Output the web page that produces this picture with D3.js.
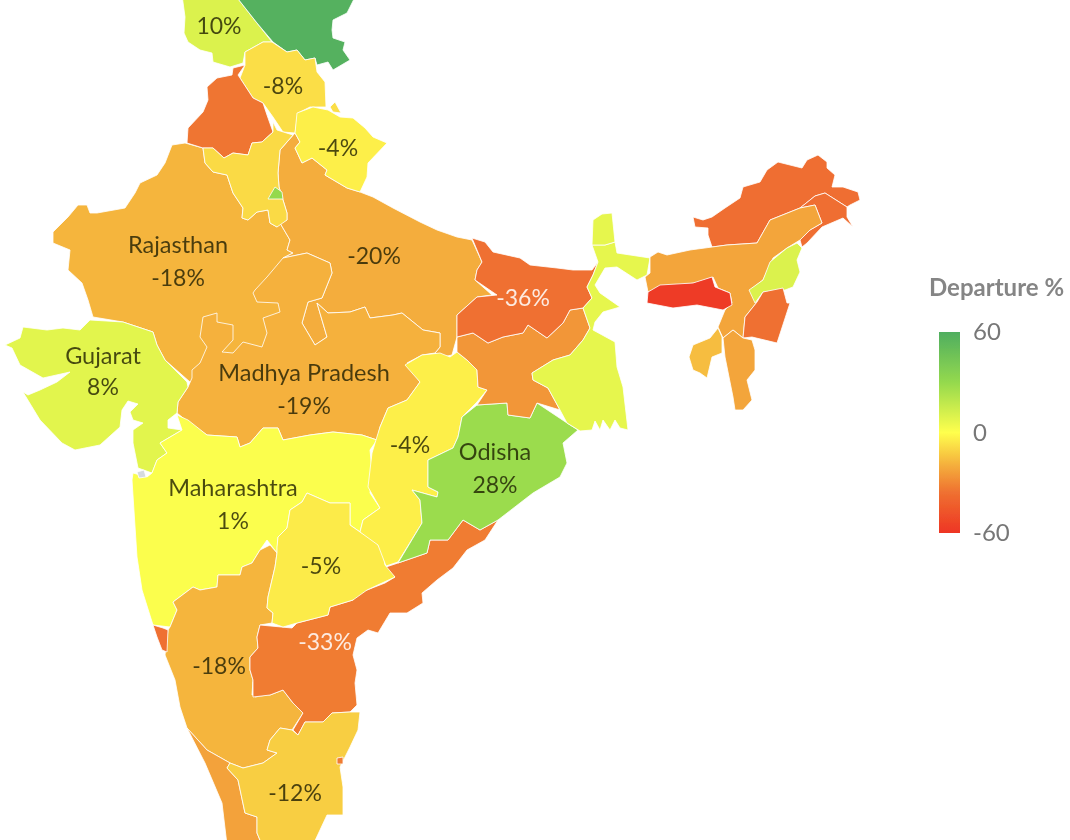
<!DOCTYPE html>
<html>
<head>
<meta charset="utf-8">
<script src="https://cdn.jsdelivr.net/npm/d3@7"></script>
<style>
html, body { margin: 0; padding: 0; background: #fff; }
svg { display: block; }
text { font-family: Lato, "Open Sans", sans-serif; }
</style>
</head>
<body>
<svg id="chart" width="1070" height="840"></svg>
<script>
// outlines, in map units
const rajasthan = [[185,143],[172,145],[165,163],[157,175],[140,183],[135,193],[125,208],[97,213],[90,213],[87,205],[78,205],[68,217],[53,232],[53,243],[70,250],[68,270],[82,283],[88,300],[93,317],[123,322],[153,332],[157,345],[165,360],[190,382],[240,365],[300,340],[320,290],[283,258],[293,253],[287,250],[290,240],[280,223],[277,227],[270,223],[268,210],[257,212],[248,220],[242,218],[243,208],[233,193],[227,175],[213,172],[205,163],[203,148]];
const uttarPradesh = [[295,133],[300,142],[295,148],[302,163],[312,158],[327,170],[325,175],[347,188],[360,192],[373,197],[393,208],[420,222],[437,230],[457,237],[472,240],[482,262],[477,270],[475,280],[492,295],[477,297],[457,315],[457,337],[452,355],[443,357],[435,353],[440,347],[440,333],[423,330],[402,313],[393,315],[370,318],[365,307],[350,312],[328,313],[317,303],[327,337],[315,345],[302,323],[308,302],[322,298],[332,273],[330,263],[307,253],[283,258],[293,253],[287,250],[290,240],[280,223],[287,220],[287,213],[283,200],[279,187],[278,173],[280,150]];
const madhyaPradesh = [[192,378],[192,370],[200,363],[207,347],[200,337],[203,317],[217,313],[217,322],[233,325],[233,340],[222,352],[233,353],[243,342],[262,347],[267,333],[263,318],[280,312],[278,303],[257,302],[253,293],[255,290],[267,277],[283,258],[307,253],[330,263],[332,273],[322,298],[308,302],[302,323],[315,345],[327,337],[317,303],[328,313],[350,312],[365,307],[370,318],[393,315],[402,313],[423,330],[440,333],[440,347],[435,353],[422,355],[407,363],[420,382],[407,400],[388,408],[380,427],[377,440],[362,435],[333,432],[310,435],[283,440],[278,428],[263,428],[250,443],[240,447],[237,437],[207,435],[188,422],[177,413],[178,402],[188,387]];
const gujarat = [[90,320],[80,330],[63,328],[47,330],[23,327],[20,338],[5,345],[12,348],[20,365],[43,378],[70,372],[57,382],[40,390],[28,395],[23,392],[40,420],[62,443],[75,450],[100,445],[120,427],[122,410],[128,401],[138,404],[130,412],[133,420],[143,423],[133,430],[133,443],[138,468],[152,473],[157,460],[167,453],[160,443],[182,430],[168,428],[168,420],[177,413],[178,402],[188,387],[187,382],[165,360],[157,345],[153,332],[123,322]];
const maharashtra = [[167,453],[160,443],[182,430],[177,415],[188,420],[207,435],[237,437],[240,447],[250,443],[263,428],[278,428],[283,440],[310,435],[333,432],[362,435],[377,440],[370,450],[372,470],[370,493],[380,508],[363,520],[360,532],[350,525],[350,503],[330,503],[307,493],[302,502],[290,510],[287,528],[278,537],[277,553],[267,540],[260,550],[252,563],[242,567],[240,575],[218,575],[217,587],[200,590],[193,587],[173,602],[177,610],[170,627],[153,625],[142,590],[137,557],[132,480],[133,473],[147,477],[152,473],[157,460]];
const goa = [[153,625],[163,628],[168,630],[167,652],[162,650],[157,637]];
const karnataka = [[173,602],[193,587],[200,590],[217,587],[218,575],[240,575],[242,567],[252,563],[260,550],[270,545],[277,553],[275,567],[268,597],[267,608],[273,613],[272,623],[260,625],[257,637],[258,648],[250,657],[250,670],[253,680],[252,695],[270,695],[283,690],[293,703],[303,713],[292,730],[280,728],[270,740],[267,750],[277,753],[263,763],[243,768],[230,763],[207,750],[187,728],[180,707],[175,680],[165,655],[168,630],[170,627],[177,610]];
const karnatakaEnclave = [[253,682],[268,678],[270,683],[263,688],[267,695],[255,697]];
const andhraPradesh = [[498,520],[480,530],[463,520],[448,540],[430,540],[427,553],[398,563],[383,568],[395,577],[385,583],[367,590],[358,592],[353,600],[330,607],[328,615],[297,623],[292,628],[260,625],[257,637],[258,648],[250,657],[250,670],[253,680],[253,697],[270,695],[283,690],[293,703],[303,713],[293,730],[298,735],[305,722],[323,722],[332,713],[350,712],[357,705],[355,683],[357,670],[353,655],[357,638],[368,630],[378,633],[390,613],[407,613],[423,603],[422,593],[437,580],[453,568],[467,550],[485,540]];
const telangana = [[277,553],[277,547],[278,537],[287,528],[290,510],[302,502],[307,493],[330,503],[350,503],[350,525],[360,532],[375,540],[383,553],[385,565],[395,577],[367,590],[353,600],[330,607],[328,615],[297,623],[283,627],[272,623],[273,613],[267,608],[268,597],[275,567]];
const chhattisgarh = [[405,365],[422,355],[440,353],[450,357],[457,352],[467,360],[477,370],[478,387],[487,390],[477,402],[462,417],[458,437],[453,448],[428,460],[428,487],[438,492],[437,497],[412,490],[420,500],[422,523],[398,562],[386,566],[378,545],[360,532],[363,520],[380,508],[368,487],[372,453],[375,443],[380,427],[388,408],[407,400],[420,382]];
const odisha = [[428,460],[453,448],[458,437],[462,417],[477,405],[507,403],[508,415],[530,418],[537,403],[567,423],[578,430],[563,443],[567,463],[560,477],[533,493],[498,520],[480,530],[463,520],[448,540],[430,540],[427,553],[398,563],[422,523],[420,500],[412,490],[437,497],[438,492],[428,487]];
const jharkhand = [[457,337],[473,333],[488,343],[503,337],[523,333],[528,325],[547,338],[563,323],[570,310],[583,308],[590,328],[583,340],[570,355],[553,360],[532,373],[533,380],[548,388],[560,410],[537,403],[530,418],[508,415],[507,403],[477,405],[487,390],[478,387],[477,370],[467,360],[457,352]];
const bihar = [[472,238],[485,242],[493,252],[520,258],[530,265],[557,268],[573,270],[592,270],[598,262],[593,275],[587,287],[592,298],[583,308],[570,310],[563,323],[547,338],[528,325],[523,333],[503,337],[488,343],[473,333],[457,337],[457,315],[477,297],[497,295],[475,280],[477,270],[482,262]];
const westBengal = [[532,373],[553,360],[570,355],[583,340],[590,328],[583,308],[592,298],[587,287],[593,275],[598,262],[592,245],[605,245],[615,242],[617,253],[650,258],[647,275],[637,280],[617,267],[605,268],[595,285],[600,293],[620,307],[603,312],[595,322],[593,330],[615,342],[617,367],[623,387],[628,430],[620,428],[615,420],[610,430],[603,420],[600,430],[595,421],[592,430],[580,431],[567,423],[560,410],[548,388],[533,380]];
const sikkim = [[592,245],[593,220],[602,214],[612,213],[615,242],[605,245]];
const jammuKashmir = [[182,-5],[185,17],[184,33],[188,42],[200,50],[212,53],[213,62],[230,67],[243,63],[245,52],[263,42],[272,42],[257,23],[235,-5]];
const ladakh = [[235,-5],[257,23],[273,42],[287,52],[297,50],[305,60],[315,58],[317,65],[328,62],[333,70],[350,60],[343,50],[345,42],[333,38],[332,30],[333,20],[347,13],[352,3],[356,-5]];
const himachal = [[245,52],[263,42],[272,42],[287,52],[297,50],[305,60],[315,58],[317,72],[325,82],[326,107],[310,107],[298,113],[295,133],[283,132],[273,117],[263,103],[253,98],[240,78],[245,65]];
const himachalSliver = [[330,107],[335,102],[341,113],[333,112]];
const punjab = [[245,65],[238,75],[240,78],[253,98],[263,103],[267,115],[273,132],[262,142],[252,143],[248,155],[233,153],[224,158],[213,148],[203,148],[187,143],[188,128],[203,112],[208,100],[207,87],[217,78],[232,75],[233,68]];
const haryana = [[273,122],[277,130],[293,135],[280,150],[278,173],[279,187],[283,200],[287,213],[287,220],[277,227],[270,223],[268,210],[257,212],[248,220],[242,218],[243,208],[233,193],[227,175],[213,172],[205,163],[203,148],[213,148],[224,158],[233,153],[248,155],[252,143],[262,142],[273,132]];
const delhi = [[275,187],[282,192],[283,199],[268,199],[272,192]];
const uttarakhand = [[297,113],[313,107],[328,110],[340,117],[353,118],[365,128],[373,137],[387,143],[368,163],[367,177],[360,192],[347,188],[325,175],[327,170],[312,158],[302,163],[295,148],[300,142],[295,133]];
const arunachal = [[693,217],[703,220],[712,217],[725,208],[740,198],[743,187],[760,182],[767,170],[778,162],[802,168],[807,160],[818,155],[827,162],[827,168],[835,175],[832,187],[843,187],[858,192],[860,200],[850,205],[847,207],[825,193],[815,196],[800,208],[770,220],[757,243],[727,245],[712,247],[708,235],[708,228],[695,227]];
const arunachalEast = [[800,208],[815,196],[825,193],[847,207],[847,217],[853,227],[843,218],[822,227],[807,243],[802,247],[800,240],[810,230],[822,223],[815,205]];
const assam = [[650,257],[658,252],[667,255],[690,250],[727,245],[757,243],[770,220],[800,208],[815,205],[822,223],[810,230],[800,240],[787,248],[773,258],[763,280],[750,290],[757,302],[745,317],[743,338],[733,330],[723,338],[718,327],[725,310],[732,303],[730,293],[718,288],[713,277],[695,283],[660,287],[648,292],[645,277],[650,273]];
const meghalaya = [[647,303],[648,292],[660,285],[693,283],[712,277],[715,287],[730,293],[732,305],[723,310],[697,305],[673,308]];
const nagaland = [[797,243],[802,248],[797,260],[800,272],[793,287],[785,290],[763,292],[755,303],[749,290],[763,280],[770,262],[787,248]];
const manipur = [[763,292],[783,288],[787,303],[790,303],[777,343],[752,337],[743,338],[745,317],[757,302]];
const mizoram = [[723,338],[733,330],[743,338],[752,340],[755,350],[755,370],[747,380],[752,400],[743,410],[735,410],[733,397],[725,357]];
const tripura = [[718,328],[722,337],[722,353],[712,357],[707,378],[700,373],[693,370],[689,357],[693,345],[710,338]];
const kerala = [[187,728],[207,750],[230,763],[227,768],[238,780],[245,813],[257,817],[257,833],[262,845],[227,845],[222,803],[205,763]];
const tamilNadu = [[230,763],[243,768],[263,763],[277,753],[267,750],[270,740],[280,728],[292,730],[298,735],[305,722],[323,722],[332,713],[350,712],[360,712],[358,730],[350,747],[340,767],[343,787],[343,815],[327,815],[313,845],[262,845],[257,833],[257,817],[245,813],[238,780],[227,768]];
const puducherry = [[337,758],[343,757],[343,764],[337,764]];
const dadra = [[137,472],[144,470],[146,477],[139,478]];

const regionNames = ["Rajasthan","Uttar Pradesh","Madhya Pradesh","Gujarat","Maharashtra","Karnataka","Karnataka (enclave)","Goa","Andhra Pradesh","Telangana","Chhattisgarh","Odisha","Jharkhand","Bihar","West Bengal","Sikkim","Jammu & Kashmir","Ladakh","Himachal Pradesh","Himachal (sliver)","Punjab","Haryana","Delhi","Uttarakhand","Arunachal Pradesh","Arunachal (east)","Assam","Meghalaya","Nagaland","Manipur","Mizoram","Tripura","Kerala","Tamil Nadu","Puducherry","Dadra"];
const regionValues = [-18,-20,-19,8,1,-18,-18,-36,-33,-5,-4,28,-26,-36,7,7,10,58,-8,-8,-35,-9,30,-4,-37,-37,-22,-58,10,-36,-22,-16,-23,-12,-33,null];
const regionRings = [rajasthan,uttarPradesh,madhyaPradesh,gujarat,maharashtra,karnataka,karnatakaEnclave,goa,andhraPradesh,telangana,chhattisgarh,odisha,jharkhand,bihar,westBengal,sikkim,jammuKashmir,ladakh,himachal,himachalSliver,punjab,haryana,delhi,uttarakhand,arunachal,arunachalEast,assam,meghalaya,nagaland,manipur,mizoram,tripura,kerala,tamilNadu,puducherry,dadra];

const labelTexts = ["10%","-8%","-4%","Rajasthan","-18%","-20%","-36%","Gujarat","8%","Madhya Pradesh","-19%","-4%","Odisha","28%","Maharashtra","1%","-5%","-18%","-33%","-12%"];
const labelPoints = [[219,25],[283,85],[338,147],[178,244],[178,277],[374,255],[523,297],[103,355],[103,386],[304,372],[304,405],[410,444],[495,451],[495,484],[233,487],[233,520],[321,565],[219,665],[325,641],[295,792]];

const departureStops = [-60,-36,-20,0,30,60];
const departureColors = ["#ee3524","#ef7030","#f4ad3c","#ffff4d","#94d94e","#4fae5f"];
const legendTicks = [60,0,-60];

const color = d3.scaleLinear().domain(departureStops).range(departureColors);
const svg = d3.select("#chart");
const defs = svg.append("defs");

// the picture is soft all over, so everything goes through a small blur
defs.append("filter")
    .attr("id", "soft")
    .attr("filterUnits", "userSpaceOnUse")
    .attr("x", 0).attr("y", 0).attr("width", 1070).attr("height", 840)
    .append("feGaussianBlur")
    .attr("stdDeviation", 0.55);

const root = svg.append("g").attr("filter", "url(#soft)");

const projection = d3.geoIdentity();
const path = d3.geoPath(projection);

const features = regionNames.map((name, i) => ({
    type: "Feature",
    properties: { name: name, value: regionValues[i] },
    geometry: { type: "Polygon", coordinates: [regionRings[i].concat([regionRings[i][0]])] }
}));

root.append("g").attr("id", "states")
    .selectAll("path")
    .data(features)
    .join("path")
    .attr("d", path)
    .attr("fill", d => d.properties.value === null ? "#d5dade" : color(d.properties.value))
    .attr("stroke", "#fff")
    .attr("stroke-opacity", 0.8)
    .attr("stroke-width", 1)
    .attr("stroke-linejoin", "round");

// white on the two darkest labelled states, the rest dark
root.append("g").attr("id", "labels")
    .selectAll("text")
    .data(labelTexts)
    .join("text")
    .attr("x", (d, i) => projection(labelPoints[i])[0])
    .attr("y", (d, i) => projection(labelPoints[i])[1])
    .attr("text-anchor", "middle")
    .attr("dominant-baseline", "central")
    .attr("font-size", d => d.endsWith("%") ? 23 : 23.5)
    .attr("fill", d => (d === "-36%" || d === "-33%") ? "#fff" : "#1a1a00")
    .attr("fill-opacity", d => (d === "-36%" || d === "-33%") ? 0.85 : 0.78)
    .text(d => d);

// legend
const legendY = d3.scaleLinear().domain([60,-60]).range([332,533]);
const gradient = defs.append("linearGradient")
    .attr("id", "departureRamp")
    .attr("x1", 0).attr("y1", 0).attr("x2", 0).attr("y2", 1);

departureStops.slice().reverse().forEach(stop => {
    gradient.append("stop")
        .attr("offset", (60 - stop) / 120)
        .attr("stop-color", color(stop));
});

root.append("rect")
    .attr("x", 939)
    .attr("y", legendY(60))
    .attr("width", 21)
    .attr("height", legendY(-60) - legendY(60))
    .attr("fill", "url(#departureRamp)");

const legendAxis = root.append("g")
    .attr("transform", "translate(960,0)")
    .call(d3.axisRight(legendY).tickValues(legendTicks).tickFormat(d => String(d)).tickSize(0).tickPadding(13));
legendAxis.select(".domain").remove();
legendAxis.selectAll("text")
    .attr("font-family", "Lato, 'Open Sans', sans-serif")
    .attr("font-size", 24)
    .attr("fill", "#777");

root.append("text")
    .attr("x", 929)
    .attr("y", 286)
    .attr("dominant-baseline", "central")
    .attr("font-size", 24)
    .attr("font-weight", 700)
    .attr("fill", "#858585")
    .text("Departure %");
</script>
</body>
</html>
